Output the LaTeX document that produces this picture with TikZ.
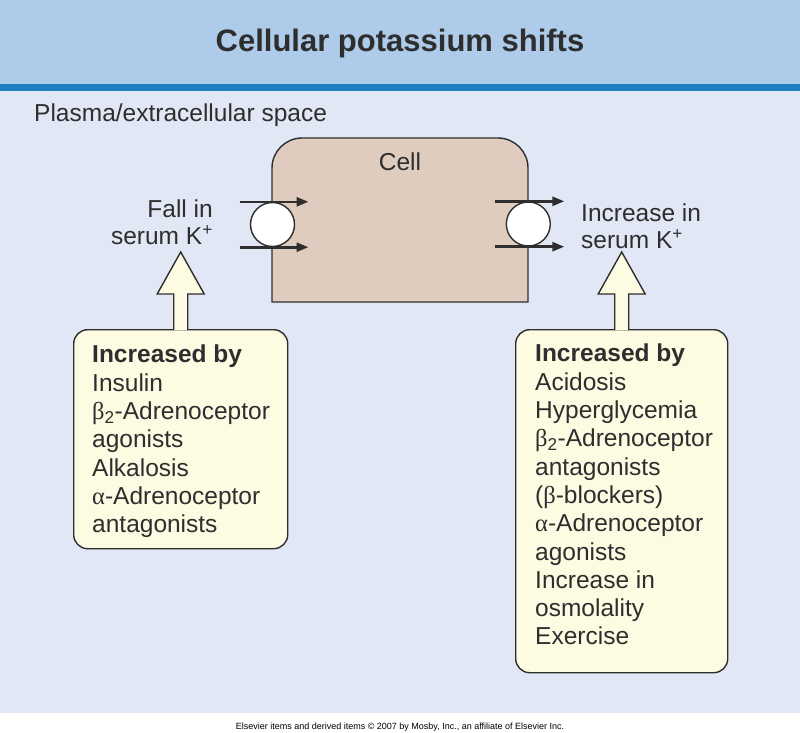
\documentclass[tikz,border=0pt]{standalone}
\usepackage{fontspec}
\setmainfont{Liberation Sans}
\newfontfamily\grk{Liberation Serif}
\usetikzlibrary{arrows.meta}
\definecolor{headblue}{HTML}{AFCBEA}
\definecolor{lineblue}{HTML}{1C7DC1}
\definecolor{plasmabg}{HTML}{E1E7F5}
\definecolor{cellfill}{HTML}{DFCCBE}
\definecolor{cream}{HTML}{FEFBE3}
\definecolor{ink}{HTML}{2E2E2E}
\begin{document}
\begin{tikzpicture}[x=1pt,y=-1pt,
	txt/.style={text=ink, inner sep=0pt, font=\fontsize{24.5}{28.3}\selectfont},
	listbox/.style={draw=ink, fill=cream, line width=1.4pt, rounded corners=14pt, anchor=north west},
	pore/.style={circle, draw=ink, fill=white, line width=1.4pt, minimum size=44pt, inner sep=0pt},
	flow/.style={draw=ink, line width=2.6pt, -{Triangle[length=12pt,width=9pt]}},
	bigarrow/.style={draw=ink, fill=cream, line width=1.4pt, line join=miter}]
	\useasboundingbox (0,0) rectangle (800,733);
	\fill[white] (0,0) rectangle (800,733);
	\fill[headblue] (0,0) rectangle (800,84);
	\fill[lineblue] (0,84) rectangle (800,91);
	\fill[plasmabg] (0,91) rectangle (800,713);
	\node[txt, anchor=base, font=\fontsize{31}{36}\selectfont\bfseries] (title) at (400,52) {Cellular potassium shifts};
	\node[txt, anchor=base west] (plasma) at (34,122) {Plasma/extracellular space};
	\draw[ink, fill=cellfill, line width=1.4pt] (272,302) -- (272,168) .. controls (272,151.5) and (285.5,138) .. (302,138) -- (498,138) .. controls (514.5,138) and (528,151.5) .. (528,168) -- (528,302) -- cycle;
	\node[txt, anchor=base] (cell) at (400,170) {Cell};
	\node[pore] (lpore) at (272.5,224.5) {};
	\node[pore] (rpore) at (528.3,224) {};
	\draw[flow] ([xshift=-33pt]lpore.north) -- ([xshift=36pt]lpore.north);
	\draw[flow] ([xshift=-33pt]lpore.south) -- ([xshift=36pt]lpore.south);
	\draw[flow] ([xshift=-33pt]rpore.north) -- ([xshift=36pt]rpore.north);
	\draw[flow] ([xshift=-33pt]rpore.south) -- ([xshift=36pt]rpore.south);
	\node[txt, anchor=north east, align=right, font=\fontsize{24.5}{26.5}\selectfont] (fall) at (213,200) {Fall in\\serum K\textsuperscript{+}};
	\node[txt, anchor=north west, align=left, font=\fontsize{24.5}{27}\selectfont] (rise) at (581,204) {Increase in\\serum K\textsuperscript{+}};
	\node[listbox, minimum width=214pt, minimum height=219pt] (lbox) at (73,329) {};
	\node[listbox, minimum width=212pt, minimum height=343pt] (rbox) at (515,329) {};
	\node[txt, anchor=north west, align=left] (lcauses) at (92,345) {\textbf{Increased by}\\Insulin\\{\grk β}\textsubscript{2}-Adrenoceptor\\agonists\\Alkalosis\\{\grk α}-Adrenoceptor\\antagonists};
	\node[txt, anchor=north west, align=left] (rcauses) at (535,344) {\textbf{Increased by}\\Acidosis\\Hyperglycemia\\{\grk β}\textsubscript{2}-Adrenoceptor\\antagonists\\({\grk β}-blockers)\\{\grk α}-Adrenoceptor\\agonists\\Increase in\\osmolality\\Exercise};
	\filldraw[bigarrow] ([xshift=-7pt,yshift=-1pt]lbox.north) -- ++(0,-36) -- ++(-16.5,0) -- ++(23.5,-42) -- ++(23.5,42) -- ++(-16.5,0) -- ([xshift=7pt,yshift=-1pt]lbox.north);
	\filldraw[bigarrow] ([xshift=-7pt,yshift=-1pt]rbox.north) -- ++(0,-36) -- ++(-16.5,0) -- ++(23.5,-42) -- ++(23.5,42) -- ++(-16.5,0) -- ([xshift=7pt,yshift=-1pt]rbox.north);
	\node[txt, text=black, font=\fontsize{9}{10}\selectfont] (credit) at (400,727) {Elsevier items and derived items © 2007 by Mosby, Inc., an affiliate of Elsevier Inc.};
\end{tikzpicture}
\end{document}
